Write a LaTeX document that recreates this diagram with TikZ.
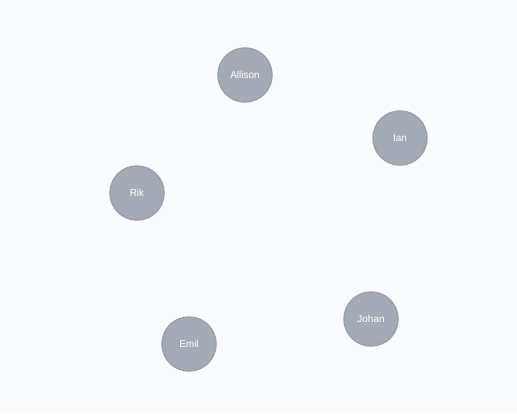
\documentclass[tikz,border=0pt]{standalone}
\usepackage{fontspec}
\setmainfont{Liberation Sans}
\definecolor{bg}{HTML}{F9FBFD}
\definecolor{nodefill}{HTML}{A5ABB6}
\definecolor{nodeline}{HTML}{9AA1AC}
\tikzset{person/.style={circle, fill=nodefill, draw=nodeline, line width=1.5pt, minimum size=54pt, inner sep=0pt, text=white, font=\fontsize{10pt}{12pt}\selectfont}}
\begin{document}
\begin{tikzpicture}[x=1pt,y=-1pt]
\fill[bg] (0,0) rectangle (517,413);
\useasboundingbox (0,0) rectangle (517,413);
\node[person] (allison) at (245,75) {Allison};
\node[person] (ian) at (400,138) {Ian};
\node[person] (rik) at (137,193) {Rik};
\node[person] (emil) at (189,344) {Emil};
\node[person] (johan) at (371,319) {Johan};
\end{tikzpicture}
\end{document}
